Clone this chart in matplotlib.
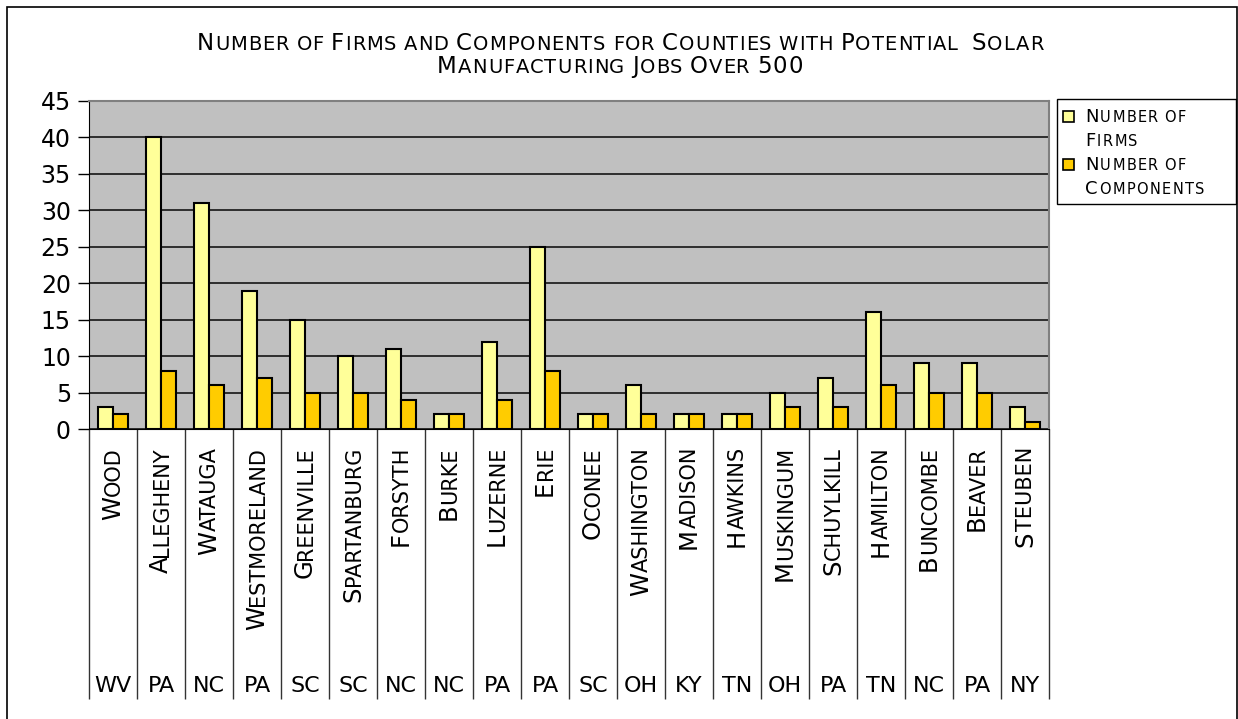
import numpy as np
import matplotlib
matplotlib.use('Agg')
import matplotlib.pyplot as plt
from matplotlib.patches import Rectangle

counties = ['Wood', 'Allegheny', 'Watauga', 'Westmoreland', 'Greenville', 'Spartanburg',
            'Forsyth', 'Burke', 'Luzerne', 'Erie', 'Oconee', 'Washington', 'Madison',
            'Hawkins', 'Muskingum', 'Schuylkill', 'Hamilton', 'Buncombe', 'Beaver', 'Steuben']
states = ['WV', 'PA', 'NC', 'PA', 'SC', 'SC', 'NC', 'NC', 'PA', 'PA',
          'SC', 'OH', 'KY', 'TN', 'OH', 'PA', 'TN', 'NC', 'PA', 'NY']
firms = [3, 40, 31, 19, 15, 10, 11, 2, 12, 25, 2, 6, 2, 2, 5, 7, 16, 9, 9, 3]
components = [2, 8, 6, 7, 5, 5, 4, 2, 4, 8, 2, 2, 2, 2, 3, 3, 6, 5, 5, 1]
series_names = ['Number of Firms', 'Number of Components']
legend_lines = [['Number of', 'Firms'], ['Number of', 'Components']]
title_lines = ['Number of Firms and Components for Counties with Potential  Solar',
               'Manufacturing Jobs Over 500']
yticks = np.arange(0, 50, 5)

c_firms = '#FFFF99'
c_comp = '#FFCC00'
FONT = 'DejaVu Sans'

W, H = 1238, 719
fig = plt.figure(figsize=(W / 100, H / 100), dpi=100)
renderer = fig.canvas.get_renderer()


def px(x, y):
    # pixel position measured from the top-left corner -> figure fraction
    return x / W, 1 - y / H


_adv = {}
def advance(s, size):
    key = (s, size)
    if key not in _adv:
        t = fig.text(0, 0, '|' + s + '|', fontsize=size, family=FONT)
        w1 = t.get_window_extent(renderer).width
        t.set_text('||')
        w0 = t.get_window_extent(renderer).width
        t.remove()
        _adv[key] = w1 - w0
    return _adv[key]


def runs_of(s, big, small, split=False):
    # fake small caps: capitals at the big size, lower case letters upper-cased at the small size
    runs = []
    for ch in s:
        if ch == ' ' and runs:
            runs[-1][0] += ch
            continue
        size = small if ch.islower() else big
        if runs and runs[-1][1] == size and not split:
            runs[-1][0] += ch.upper()
        else:
            runs.append([ch.upper(), size])
    return runs


def sc_text(x, y, s, big, small, rot=0, align='left', track=0):
    runs = runs_of(s, big, small, split=track > 0)
    total = sum(advance(t, sz) + track for t, sz in runs) - track
    pos = {'left': 0, 'center': -total / 2, 'right': -total}[align]
    for t, sz in runs:
        fx, fy = px(x + pos, y) if rot == 0 else px(x, y - pos)
        fig.text(fx, fy, t, fontsize=sz, family=FONT, rotation=rot,
                 rotation_mode='anchor', ha='left', va='baseline')
        pos += advance(t, sz) + track


# plot area
ax = fig.add_axes([89 / W, 1 - 429 / H, 960 / W, 328 / H])
x = np.arange(len(counties))
bw = 0.31
ax.bar(x - bw / 2, firms, bw, color=c_firms, edgecolor='black', lw=1.5, zorder=3)
ax.bar(x + bw / 2, components, bw, color=c_comp, edgecolor='black', lw=1.5, zorder=3)
ax.set_xlim(-0.5, len(counties) - 0.5)
ax.set_ylim(0, 45)
ax.set_facecolor('#C0C0C0')
ax.set_yticks(yticks)
ax.set_yticklabels([str(v) for v in yticks], family=FONT)
ax.yaxis.grid(True, color='#222222', lw=1.3)
ax.set_axisbelow(True)
ax.tick_params(axis='y', length=8, width=1, labelsize=17, pad=5)
ax.set_xticks([])
for s in ['top', 'right']:
    ax.spines[s].set_color('#808080')
    ax.spines[s].set_linewidth(1.5)
ax.spines['left'].set_color('black')
ax.spines['bottom'].set_color('black')

# category separators running down through the two label rows
ax.vlines(np.arange(len(counties) + 1) - 0.5, -270 / 328, 0,
          transform=ax.get_xaxis_transform(), clip_on=False, color='#333333', lw=1)

# state row
for i, st in enumerate(states):
    ax.text(i, -263 / 328, st, transform=ax.get_xaxis_transform(), ha='center',
            va='baseline', fontsize=16, family=FONT)

# county row, rotated, top aligned
for i, name in enumerate(counties):
    cx = ax.transData.transform((i, 0))[0]
    sc_text(cx + 7, 447, name, 17.5, 15, rot=90, align='right')

# title
sc_text(620, 50, title_lines[0], 16.5, 14, align='center', track=1)
sc_text(620, 73, title_lines[1], 16.5, 14, align='center', track=1)

# legend
fig.patches.append(Rectangle(px(1057, 204), 179 / W, 105 / H, transform=fig.transFigure,
                             fill=False, ec='black', lw=1))
for k, (col, lines) in enumerate(zip([c_firms, c_comp], legend_lines)):
    y0 = 122 + 48 * k
    fig.patches.append(Rectangle(px(1063, y0), 11 / W, 11 / H, transform=fig.transFigure,
                                 fc=col, ec='black', lw=1.2))
    sc_text(1085, y0, lines[0], 13, 10.5, track=1.5)
    sc_text(1085, y0 + 24, lines[1], 13, 10.5, track=1.5)

# outer chart border
fig.patches.append(Rectangle(px(7, 740), 1230 / W, 733 / H, transform=fig.transFigure,
                             fill=False, ec='black', lw=1.2, clip_on=False))

fig.savefig('out.png', dpi=100)
